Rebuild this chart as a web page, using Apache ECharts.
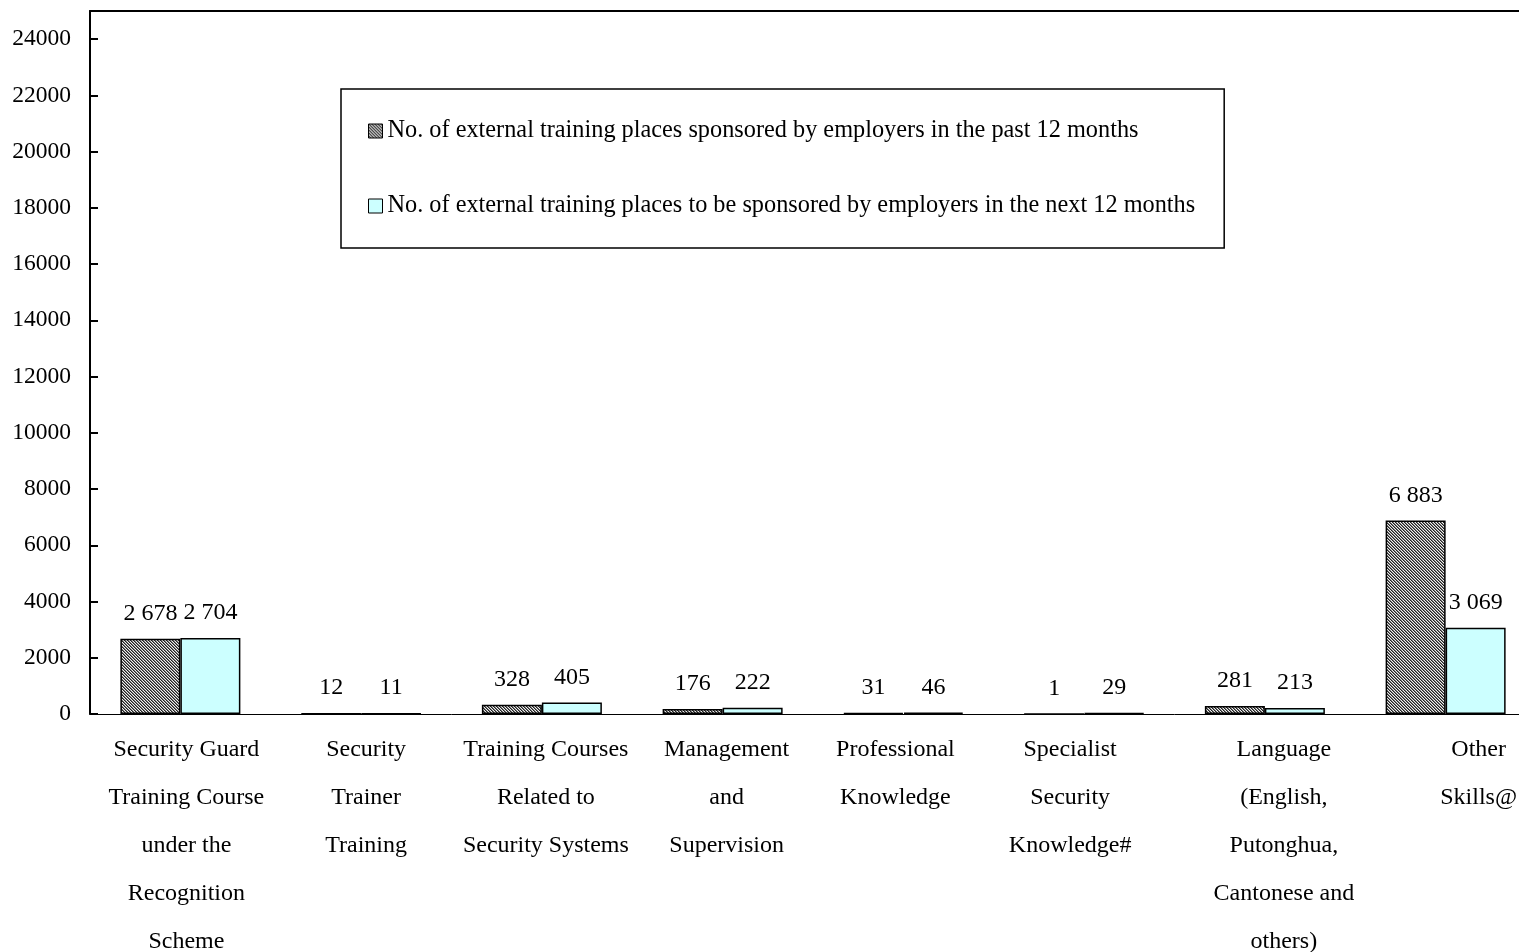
<!DOCTYPE html>
<html><head><meta charset="utf-8">
<script src="https://cdn.jsdelivr.net/npm/echarts@6/dist/echarts.min.js"></script>
<style>html,body{margin:0;padding:0;overflow:hidden;background:#fff;width:1519px;height:952px}
#chart{width:1536px;height:952px}</style></head>
<body><div id="chart"></div>
<script>
// ---- data ----
const categories = [
  'Security Guard\nTraining Course\nunder the\nRecognition\nScheme',
  'Security\nTrainer\nTraining',
  'Training Courses\nRelated to\nSecurity Systems',
  'Management\nand\nSupervision',
  'Professional\nKnowledge',
  'Specialist\nSecurity\nKnowledge#',
  'Language\n(English,\nPutonghua,\nCantonese and\nothers)',
  'Other\nSkills@'
];
const seriesNames = [
  'No. of external training places sponsored by employers in the past 12 months',
  'No. of external training places to be sponsored by employers in the next 12 months'
];
const pastValues = [2678, 12, 328, 176, 31, 1, 281, 6883];
const nextValues = [2704, 11, 405, 222, 46, 29, 213, 3069];
const yMin = 0, yMax = 25000, yInterval = 2000;

// ---- style ----
const FONT = "'Liberation Serif', 'Times New Roman', serif";
const labelShift = [6, 5, 4, 4, -8, -14, 19, 33];

function hatch() {
  const c = document.createElement('canvas');
  c.width = 3; c.height = 3;
  const g = c.getContext('2d');
  g.fillStyle = '#f0f0f0'; g.fillRect(0, 0, 3, 3);
  for (let y = 0; y < 3; y++) for (let x = 0; x < 3; x++) {
    const m = (((x - y) % 3) + 3) % 3;
    if (m === 0) { g.fillStyle = '#222222'; g.fillRect(x, y, 1, 1); }
    else if (m === 1) { g.fillStyle = '#7a7a7a'; g.fillRect(x, y, 1, 1); }
  }
  return c;
}
const fmt = v => String(v).replace(/\B(?=(\d{3})+(?!\d))/g, ' ');

const xData = categories.map((c, i) => {
  const s = labelShift[i] * 2;
  return { value: c, textStyle: { padding: s >= 0 ? [0, 0, 0, s] : [0, -s, 0, 0] } };
});

const chart = echarts.init(document.getElementById('chart'), null, { renderer: 'canvas' });
const labelCommon = {
  show: true, position: 'top', distance: 13, fontFamily: FONT, fontSize: 24, color: '#000',
  formatter: p => fmt(p.value)
};
chart.setOption({
  animation: false,
  textStyle: { fontFamily: FONT },
  grid: { left: 90, right: 0, top: 11, bottom: 238, containLabel: false, outerBoundsMode: 'none' },
  legend: {
    orient: 'vertical', left: 341, top: 89,
    padding: [30, 29, 30, 27], itemGap: 51, itemWidth: 14, itemHeight: 14,
    icon: 'rect', borderColor: '#000', borderWidth: 1.5,
    itemStyle: { borderColor: '#000', borderWidth: 1 },
    textStyle: { fontFamily: FONT, fontSize: 24.3, lineHeight: 24, color: '#000' },
    data: seriesNames
  },
  xAxis: [{
    type: 'category', data: xData,
    axisLine: { lineStyle: { color: '#000', width: 1 } },
    axisTick: { show: false },
    axisLabel: { interval: 0, fontFamily: FONT, fontSize: 24, lineHeight: 48, margin: 12, color: '#000' }
  }, {
    type: 'category', position: 'top', data: categories,
    axisLine: { lineStyle: { color: '#000', width: 2 } },
    axisTick: { show: false }, axisLabel: { show: false }
  }],
  yAxis: {
    type: 'value', min: yMin, max: yMax, interval: yInterval,
    axisLine: { show: true, lineStyle: { color: '#000', width: 2 } },
    axisTick: { show: true, inside: true, length: 8, lineStyle: { color: '#000', width: 2 } },
    splitLine: { show: false },
    axisLabel: { fontFamily: FONT, fontSize: 23.5, margin: 19, color: '#000', showMaxLabel: false,
      formatter: v => String(v) }
  },
  series: [{
    name: seriesNames[0], type: 'bar', data: pastValues, barWidth: 60, barGap: '0%',
    itemStyle: { color: { image: hatch(), repeat: 'repeat' }, borderColor: '#000', borderWidth: 1.5 },
    label: labelCommon
  }, {
    name: seriesNames[1], type: 'bar', data: nextValues, barWidth: 60, barGap: '0%',
    itemStyle: { color: '#ccffff', borderColor: '#000', borderWidth: 1.5 },
    label: labelCommon
  }]
});
</script></body></html>
